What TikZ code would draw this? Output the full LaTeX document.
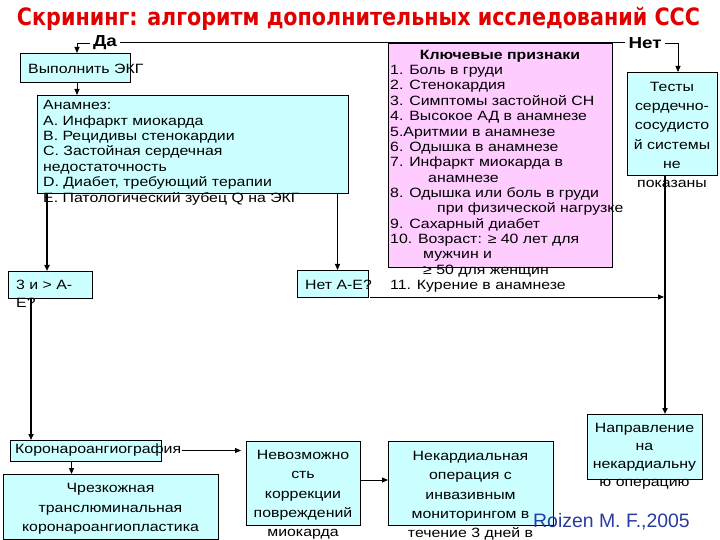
\documentclass[tikz,border=0pt]{standalone}
\usepackage{fontspec}
\setmainfont[FakeStretch=1.18]{Liberation Sans}
\newfontfamily\titlefont[FakeStretch=0.865]{DejaVu Sans}
\newfontfamily\citefont{Liberation Sans}
\usetikzlibrary{arrows.meta, positioning}
\definecolor{boxcyan}{RGB}{204, 255, 255}
\definecolor{boxpink}{RGB}{255, 204, 255}
\definecolor{titlered}{RGB}{225, 0, 0}
\definecolor{citeblue}{RGB}{40, 60, 160}

\begin{document}
\begin{tikzpicture}[x=1bp, y=-1bp,
    box/.style={draw, line width=0.7bp, inner sep=0pt, outer sep=0pt, anchor=north west},
    cyanbox/.style={box, fill=boxcyan},
    pinkbox/.style={box, fill=boxpink},
    txt/.style={inner sep=0pt, font=\fontsize{13.5}{#1}\selectfont},
    txt/.default=15.4,
    answer/.style={inner sep=3bp, font=\bfseries\fontsize{16}{18}\selectfont},
    line/.style={line width=1bp},
    conn/.style={line width=0.8bp, -{Triangle[length=6bp, width=5bp]}},
    thickconn/.style={conn, line width=1.8bp}]
    \useasboundingbox (0,0) rectangle (720,540);
    \fill[white] (0,0) rectangle (720,540);

    % Title
    \node[font=\titlefont\bfseries\fontsize{24}{26}\selectfont, text=titlered, anchor=base, inner sep=0pt] (title) at (358.5,26) {Скрининг: алгоритм дополнительных исследований ССС};

    % Yes / No branch
    \node[answer] (yes) at (105,43) {Да};
    \node[answer] (no) at (645,43) {Нет};
    \draw[line] (yes.east) -- (no.west);

    % Boxes
    \node[cyanbox, minimum width=110bp, minimum height=29bp] (ecg) at (20,53) {};
    \node[cyanbox, minimum width=311bp, minimum height=98bp] (anam) at (37,95) {};
    \node[pinkbox, minimum width=224bp, minimum height=224bp] (keys) at (388,43) {};
    \node[cyanbox, minimum width=90bp, minimum height=103bp] (tests) at (627,72) {};
    \node[cyanbox, minimum width=84bp, minimum height=27bp] (q3) at (8,271) {};
    \node[cyanbox, minimum width=71bp, minimum height=27bp] (noAE) at (297,270) {};
    \node[cyanbox, minimum width=151bp, minimum height=21bp] (corag) at (10,440) {};
    \node[cyanbox, minimum width=215bp, minimum height=65bp] (ptca) at (3,474) {};
    \node[cyanbox, minimum width=114bp, minimum height=84bp] (nocorr) at (246,441) {};
    \node[cyanbox, minimum width=165bp, minimum height=84bp] (noncard) at (388,441) {};
    \node[cyanbox, minimum width=115bp, minimum height=65bp] (referral) at (587,414) {};

    % Connectors
    \draw[conn] (yes.west) -| ([xshift=2bp]ecg.north);
    \draw[conn] (no.east) -| ([xshift=6bp]tests.north);
    \draw[conn] ([xshift=2bp]ecg.south) -- ([xshift=2bp]ecg.south |- anam.north);
    \draw[thickconn] ([xshift=-3bp]q3.north |- anam.south) -- ([xshift=-3bp]q3.north);
    \draw[conn] ([xshift=5bp]noAE.north |- anam.south) -- ([xshift=5bp]noAE.north);
    \coordinate (spine) at ([xshift=-7bp]tests.south);
    \draw[thickconn] (spine) -- (spine |- referral.north);
    \draw[conn] ([xshift=2bp]noAE.south east) -- ([xshift=-1bp]noAE.south east -| spine);
    \draw[thickconn] ([xshift=-19bp]q3.south) -- ([xshift=-19bp]q3.south |- corag.north);
    \draw[conn] ([xshift=-14bp]corag.south) -- ([xshift=-14bp]corag.south |- ptca.north);
    \draw[conn] ([xshift=21bp]corag.east) -- ([xshift=-5bp]nocorr.west |- corag.east);
    \draw[conn] ([yshift=3bp]nocorr.east) -- ([yshift=3bp]noncard.west);

    % Texts
    \node[txt, anchor=west] (ecgtxt) at ([xshift=8bp,yshift=-1bp]ecg.west) {Выполнить ЭКГ};
    \node[txt=15.5, anchor=north west, align=left] (anamtxt) at ([xshift=6bp,yshift=-5.2bp]anam.north west)
        {Анамнез:\\A. Инфаркт миокарда\\B. Рецидивы стенокардии\\C. Застойная сердечная\\недостаточность\\D. Диабет, требующий терапии\\E. Патологический зубец Q на ЭКГ};
    \node[txt, anchor=base] (keyshead) at ([yshift=-16.5bp]keys.north) {\bfseries Ключевые признаки};
    \node[txt=15.4, anchor=north west, align=left] (keystxt) at ([xshift=2bp,yshift=-22.2bp]keys.north west)
        {1. Боль в груди\\2. Стенокардия\\3. Симптомы застойной СН\\4. Высокое АД в анамнезе\\5.Аритмии в анамнезе\\6. Одышка в анамнезе\\7. Инфаркт миокарда в\\\hspace*{38bp}анамнезе\\8. Одышка или боль в груди\\\hspace*{47bp}при физической нагрузке\\9. Сахарный диабет\\10. Возраст: ≥ 40 лет для\\\hspace*{33bp}мужчин и\\\hspace*{33bp}≥ 50 для женщин\\11. Курение в анамнезе};
    \node[txt=19.2, anchor=north, align=center] (teststxt) at ([yshift=-10.2bp]tests.north)
        {Тесты\\сердечно-\\сосудисто\\й системы\\не\\показаны};
    \node[txt=18, anchor=north west, align=left] (q3txt) at ([xshift=8bp,yshift=-9.2bp]q3.north west) {3 и > А-\\Е?};
    \node[txt, anchor=west] (noAEtxt) at ([xshift=8bp,yshift=-1.5bp]noAE.west) {Нет А-Е?};
    \node[txt, anchor=west] (coragtxt) at ([xshift=5bp]corag.west) {Коронароангиография};
    \node[txt=19.5, anchor=north, align=center] (ptcatxt) at ([yshift=-9.2bp]ptca.north)
        {Чрезкожная\\транслюминальная\\коронароангиопластика};
    \node[txt=19.25, anchor=north, align=center] (nocorrtxt) at ([yshift=-9.2bp]nocorr.north)
        {Невозможно\\сть\\коррекции\\повреждений\\миокарда};
    \node[txt=19.25, anchor=north, align=center] (noncardtxt) at ([yshift=-10.2bp]noncard.north)
        {Некардиальная\\операция с\\инвазивным\\мониторингом в\\течение 3 дней в};
    \node[txt=18, anchor=north, align=center] (referraltxt) at ([yshift=-9.2bp]referral.north)
        {Направление\\на\\некардиальну\\ю операцию};

    % Source
    \node[font=\citefont\fontsize{19.5}{22}\selectfont, text=citeblue, anchor=base west, inner sep=0pt] (cite) at (533,527) {Roizen M. F.,2005};
\end{tikzpicture}
\end{document}
